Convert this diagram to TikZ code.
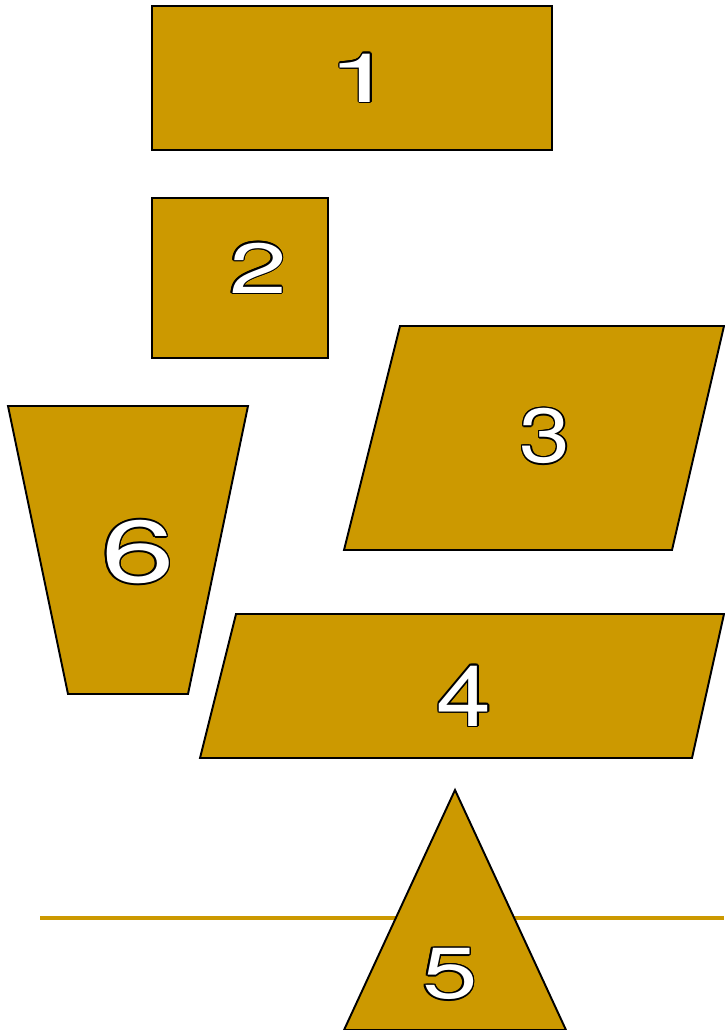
\documentclass[tikz,border=0pt]{standalone}
\usepackage{fontspec}
\setmainfont{TeX Gyre Heros}
\usepackage{graphicx}
\usetikzlibrary{calc}
\definecolor{gold}{HTML}{CC9900}
\tikzset{
  piece/.style={fill=gold, draw=black, line width=1.1pt, line join=miter},
  digit/.style={font=\fontsize{40}{40}\selectfont, inner sep=0pt},
}
\begin{document}
\begin{tikzpicture}[x=0.02cm, y=-0.02cm]
  \useasboundingbox (0,0) rectangle (724,1030);
  % line behind the triangle
  \draw[gold, line width=2.2pt] (40,918) -- (724,918);
  \draw[piece] (152,6) rectangle (552,150);
  \draw[piece] (152,198) rectangle (328,358);
  \draw[piece] (400,326) -- (724,326) -- (672,550) -- (344,550) -- cycle;
  \draw[piece] (8,406) -- (248,406) -- (188,694) -- (68,694) -- cycle;
  \draw[piece] (236,614) -- (724,614) -- (692,758) -- (200,758) -- cycle;
  \draw[piece] (455,790) -- (566,1030) -- (344,1030) -- cycle;
  % outlined numbers
  \foreach \n/\t/\x/\y/\sx/\sy in {one/1/362/78/1.75/0.97, two/2/258/268/1.48/1.01,
      three/3/545/436/1.3/1.09, four/4/464/696/1.4/1.21, five/5/450/974/1.42/1.03,
      six/6/138/552/1.88/1.25} {
    \foreach \a in {0,30,...,330}
      \node[digit, black] at ($(\x,\y)+(\a:0.9pt)$) {\scalebox{\sx}[\sy]{\t}};
    \node[digit, white] (\n) at (\x,\y) {\scalebox{\sx}[\sy]{\t}};
  }
\end{tikzpicture}
\end{document}
